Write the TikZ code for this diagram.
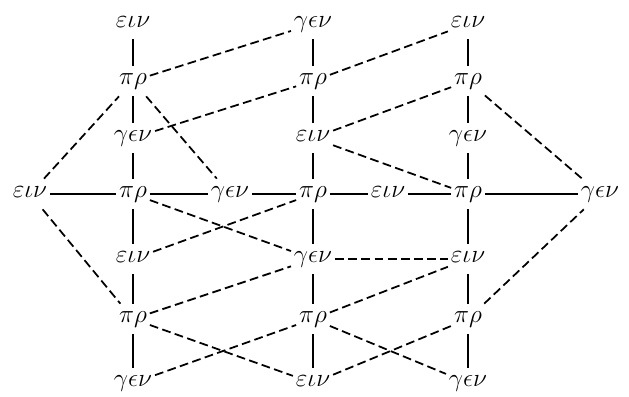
\documentclass[tikz,border=0pt]{standalone}
\usetikzlibrary{positioning}
\begin{document}
\begin{tikzpicture}[
    on grid,
    lab/.style={inner xsep=1.5pt, inner ysep=4pt, text height=1.5ex, text depth=0.6ex, font=\Large},
    sline/.style={line width=1pt},
    dline/.style={line width=1pt, dash pattern=on 5pt off 2.5pt}
]
\useasboundingbox (0,0) rectangle (12.58,-7.94);
% Middle row
\node[lab] (l) at (0.60,-3.88) {$\varepsilon\iota\nu$};
\node[lab, right=2.06cm of l] (a4) {$\pi\rho$};
\node[lab, right=1.94cm of a4] (m1) {$\gamma\epsilon\nu$};
\node[lab, right=1.66cm of m1] (b4) {$\pi\rho$};
\node[lab, right=1.50cm of b4] (m2) {$\varepsilon\iota\nu$};
\node[lab, right=1.60cm of m2] (c4) {$\pi\rho$};
\node[lab, right=2.64cm of c4] (r) {$\gamma\epsilon\nu$};

% Left column
\node[lab, above=1.12cm of a4] (a3) {$\gamma\epsilon\nu$};
\node[lab, above=1.14cm of a3] (a2) {$\pi\rho$};
\node[lab, above=1.14cm of a2] (a1) {$\varepsilon\iota\nu$};
\node[lab, below=1.30cm of a4] (a5) {$\varepsilon\iota\nu$};
\node[lab, below=1.20cm of a5] (a6) {$\pi\rho$};
\node[lab, below=1.28cm of a6] (a7) {$\gamma\epsilon\nu$};

% Centre column
\node[lab, above=1.12cm of b4] (b3) {$\varepsilon\iota\nu$};
\node[lab, above=1.14cm of b3] (b2) {$\pi\rho$};
\node[lab, above=1.14cm of b2] (b1) {$\gamma\epsilon\nu$};
\node[lab, below=1.30cm of b4] (b5) {$\gamma\epsilon\nu$};
\node[lab, below=1.20cm of b5] (b6) {$\pi\rho$};
\node[lab, below=1.28cm of b6] (b7) {$\varepsilon\iota\nu$};

% Right column
\node[lab, above=1.12cm of c4] (c3) {$\gamma\epsilon\nu$};
\node[lab, above=1.14cm of c3] (c2) {$\pi\rho$};
\node[lab, above=1.14cm of c2] (c1) {$\varepsilon\iota\nu$};
\node[lab, below=1.30cm of c4] (c5) {$\varepsilon\iota\nu$};
\node[lab, below=1.20cm of c5] (c6) {$\pi\rho$};
\node[lab, below=1.28cm of c6] (c7) {$\gamma\epsilon\nu$};

% Solid links
\draw[sline] (l) -- (a4) -- (m1) -- (b4) -- (m2) -- (c4) -- (r);
\draw[sline] (a1) -- (a2) -- (a3) -- (a4) -- (a5) -- (a6) -- (a7);
\draw[sline] (b1) -- (b2) -- (b3) -- (b4) -- (b5) -- (b6) -- (b7);
\draw[sline] (c1) -- (c2) -- (c3) -- (c4) -- (c5) -- (c6) -- (c7);

% Dashed links, upper half
\draw[dline] (l) -- (a2);
\draw[dline] (a2) -- (b1);
\draw[dline] (a2) -- (m1);
\draw[dline] (a3) -- (b2);
\draw[dline] (b2) -- (c1);
\draw[dline] (b3) -- (c2);
\draw[dline] (b3) -- (c4);
\draw[dline] (c2) -- (r);

% Dashed links, lower half
\draw[dline] (l) -- (a6);
\draw[dline] (a4) -- (b5);
\draw[dline] (a5) -- (b4);
\draw[dline] (a6) -- (b5);
\draw[dline] (a6) -- (b7);
\draw[dline] (a7) -- (b6);
\draw[dline] (b5) -- (c5);
\draw[dline] (b6) -- (c5);
\draw[dline] (b6) -- (c7);
\draw[dline] (b7) -- (c6);
\draw[dline] (c6) -- (r);
\end{tikzpicture}
\end{document}
